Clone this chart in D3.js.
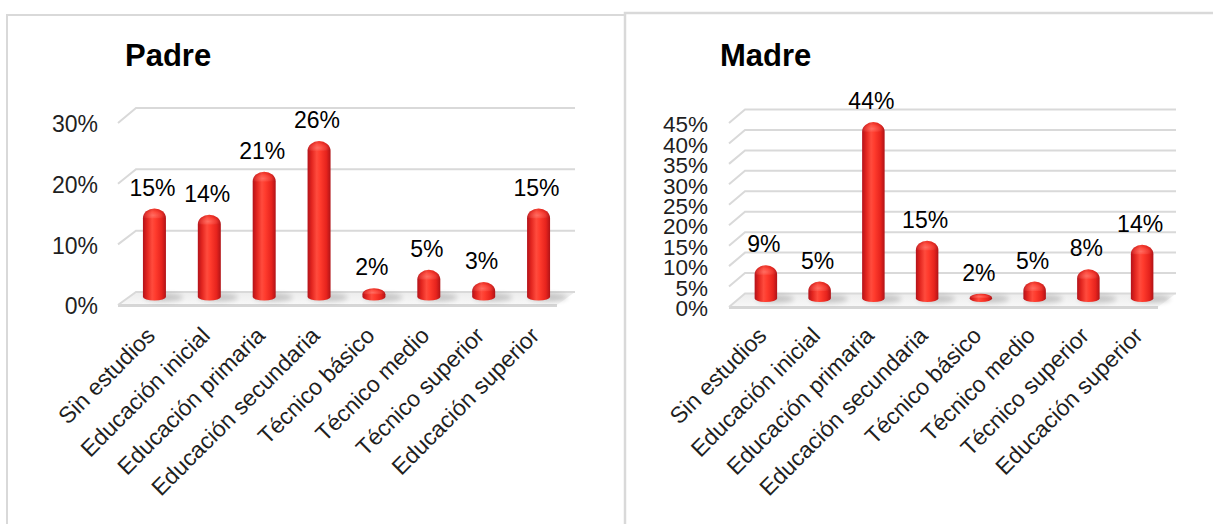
<!DOCTYPE html>
<html>
<head>
<meta charset="utf-8">
<script src="https://cdn.jsdelivr.net/npm/d3@7/dist/d3.min.js"></script>
<style>
  html, body { margin: 0; padding: 0; background: #ffffff; }
  svg { display: block; }
  text { font-family: "Liberation Sans", Arial, sans-serif; }
</style>
</head>
<body>
<svg id="chart" width="1213" height="524"></svg>
<script>
// ---- data ----
const categories = ["Sin estudios", "Educación inicial", "Educación primaria", "Educación secundaria",
                    "Técnico básico", "Técnico medio", "Técnico superior", "Educación superior"];
const padreValues = [0.15, 0.14, 0.21, 0.26, 0.02, 0.05, 0.03, 0.15];
const madreValues = [0.09, 0.05, 0.44, 0.15, 0.02, 0.05, 0.08, 0.14];
const padreTicks = [0, 0.10, 0.20, 0.30];
const madreTicks = [0, 0.05, 0.10, 0.15, 0.20, 0.25, 0.30, 0.35, 0.40, 0.45];
const titles = ["Padre", "Madre"];

// ---- layout ----
const panels = [
  { title: titles[0], values: padreValues, ticks: padreTicks, max: 0.30,
    titleX: 125, titleY: 66, axisX: 98, tickFont: 23,
    backX: [136, 575], frontX: [118, 557], midX: [127, 566],
    backY: [292, 108], frontY: [305, 123], barY: [300.5, 116.5],
    barW: 23, labelY: 337 },
  { title: titles[1], values: madreValues, ticks: madreTicks, max: 0.45,
    titleX: 720, titleY: 66, axisX: 708, tickFont: 22.5,
    backX: [745, 1176], frontX: [729, 1158], midX: [739, 1169],
    backY: [293.5, 109.5], frontY: [307, 123], barY: [302, 118],
    barW: 22.5, labelY: 337 }
];

const svg = d3.select("#chart");
const defs = svg.append("defs");

// gradients
const bodyGrad = defs.append("linearGradient").attr("id", "barBody")
  .attr("x1", "0%").attr("x2", "100%").attr("y1", "0%").attr("y2", "0%");
[["0%", "#b3121a"], ["18%", "#e2251f"], ["40%", "#ff4b3d"], ["55%", "#ff3b2d"], ["82%", "#e6231d"], ["100%", "#b01317"]]
  .forEach(([o, c]) => bodyGrad.append("stop").attr("offset", o).attr("stop-color", c));

const capGrad = defs.append("radialGradient").attr("id", "barCap")
  .attr("cx", "45%").attr("cy", "70%").attr("r", "60%");
[["0%", "rgba(255,140,130,0.55)"], ["60%", "rgba(255,110,100,0.25)"], ["100%", "rgba(150,20,20,0.15)"]]
  .forEach(([o, c]) => capGrad.append("stop").attr("offset", o).attr("stop-color", c));

const floorGrad = defs.append("linearGradient").attr("id", "floorG")
  .attr("x1", "0%").attr("x2", "0%").attr("y1", "0%").attr("y2", "100%");
[["0%", "#ececec"], ["100%", "#f8f8f8"]]
  .forEach(([o, c]) => floorGrad.append("stop").attr("offset", o).attr("stop-color", c));

const blur = defs.append("filter").attr("id", "shadowBlur")
  .attr("x", "-50%").attr("y", "-100%").attr("width", "200%").attr("height", "300%");
blur.append("feGaussianBlur").attr("stdDeviation", 2.5);

// panel borders
const borderColor = "#d9d9d9";
svg.append("path").attr("d", "M7,540 L7,15 L625,15").attr("fill", "none")
  .attr("stroke", borderColor).attr("stroke-width", 2);
svg.append("path").attr("d", "M625,540 L625,13 L1220,13").attr("fill", "none")
  .attr("stroke", borderColor).attr("stroke-width", 2.5);

panels.forEach((p, pi) => {
  const g = svg.append("g");

  const x = d3.scaleBand().domain(categories).range(p.midX).padding(0);
  const yBack = d3.scaleLinear().domain([0, p.max]).range(p.backY);
  const yFront = d3.scaleLinear().domain([0, p.max]).range(p.frontY);
  const yBar = d3.scaleLinear().domain([0, p.max]).range(p.barY);

  // title
  g.append("text").attr("x", p.titleX).attr("y", p.titleY)
    .attr("font-size", 31).attr("font-weight", "bold").attr("fill", "#000")
    .text(p.title);

  // floor
  const fy0 = yFront(0), by0 = yBack(0);
  g.append("path")
    .attr("d", `M${p.frontX[0]},${fy0} L${p.backX[0]},${by0} L${p.backX[1]},${by0} L${p.frontX[1]},${fy0} Z`)
    .attr("fill", "url(#floorG)");
  g.append("line").attr("x1", p.frontX[0]).attr("x2", p.frontX[1])
    .attr("y1", fy0 + 0.5).attr("y2", fy0 + 0.5)
    .attr("stroke", "#d6d6d6").attr("stroke-width", 3);

  // gridlines (wall + side)
  g.append("g").selectAll("path").data(p.ticks).join("path")
    .attr("d", t => `M${p.frontX[0]},${yFront(t)} L${p.backX[0]},${yBack(t)} L${p.backX[1]},${yBack(t)}`)
    .attr("fill", "none").attr("stroke", borderColor).attr("stroke-width", 2);

  // axis labels
  const axis = d3.axisLeft(yFront).tickValues(p.ticks).tickFormat(d3.format(".0%"))
    .tickSize(0).tickPadding(0);
  const ag = g.append("g").attr("transform", `translate(${p.axisX},1.5)`).call(axis);
  ag.select(".domain").remove();
  ag.selectAll("text").attr("font-size", p.tickFont).attr("fill", "#1f1f1f")
    .attr("font-family", "'Liberation Sans', Arial, sans-serif");

  // bar shadows
  g.append("g").selectAll("ellipse").data(p.values).join("ellipse")
    .attr("cx", (d, i) => x(categories[i]) + x.bandwidth() / 2 + 9)
    .attr("cy", yBar(0) - 3)
    .attr("rx", p.barW * 0.85).attr("ry", 4)
    .attr("fill", "#000").attr("opacity", 0.18).attr("filter", "url(#shadowBlur)");

  // bars
  const bars = g.append("g").selectAll("g").data(p.values).join("g");
  bars.each(function (d, i) {
    const cx = x(categories[i]) + x.bandwidth() / 2;
    const w = p.barW, rx = w / 2;
    const x0 = cx - rx, x1 = cx + rx;
    const bottom = yBar(0), top = yBar(d);
    const h = bottom - top;
    const ry = Math.min(rx * 0.85, h / 2);
    const ryb = Math.min(3.5, h / 2);
    const sel = d3.select(this);
    sel.append("path")
      .attr("d", `M${x0},${bottom - ryb} L${x0},${top + ry} A${rx},${ry} 0 0 1 ${x1},${top + ry} L${x1},${bottom - ryb} A${rx},${ryb} 0 0 1 ${x0},${bottom - ryb} Z`)
      .attr("fill", "url(#barBody)");
    sel.append("path")
      .attr("d", `M${x0},${top + ry} A${rx},${ry} 0 0 1 ${x1},${top + ry} Z`)
      .attr("fill", "url(#barCap)");
  });

  // data labels
  g.append("g").selectAll("text").data(p.values).join("text")
    .attr("x", (d, i) => x(categories[i]) + x.bandwidth() / 2 - 2)
    .attr("y", d => yBar(d) - 13)
    .attr("text-anchor", "middle").attr("font-size", 23).attr("fill", "#000")
    .text(d => d3.format(".0%")(d));

  // category labels
  g.append("g").selectAll("text").data(categories).join("text")
    .attr("transform", c => `translate(${x(c) + x.bandwidth() / 2 + 2},${p.labelY}) rotate(-45)`)
    .attr("text-anchor", "end").attr("font-size", 23).attr("fill", "#1f1f1f")
    .text(c => c);
});
</script>
</body>
</html>
